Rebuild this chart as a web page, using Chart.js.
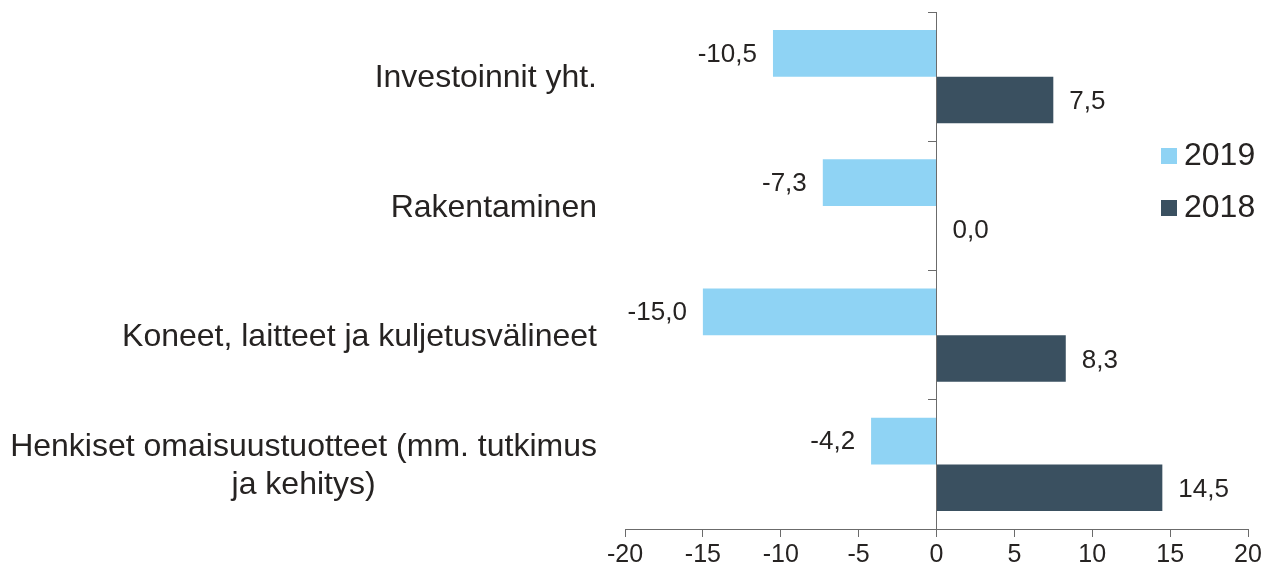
<!DOCTYPE html>
<html>
<head>
<meta charset="utf-8">
<script src="https://cdn.jsdelivr.net/npm/chart.js@4/dist/chart.umd.min.js"></script>
<style>
  html, body { margin: 0; padding: 0; background: #fff; }
  #wrap { width: 1266px; height: 573px; }
</style>
</head>
<body>
<div id="wrap"><canvas id="chart"></canvas></div>
<script>
// Data
const categories = [
  ['Investoinnit yht.'],
  ['Rakentaminen'],
  ['Koneet, laitteet ja kuljetusvälineet'],
  ['Henkiset omaisuustuotteet (mm. tutkimus', 'ja kehitys)']
];
const values2019 = [-10.5, -7.3, -15.0, -4.2];
const values2018 = [7.5, 0.0, 8.3, 14.5];
const seriesLabels = ['2019', '2018'];
const xTicks = [-20, -15, -10, -5, 0, 5, 10, 15, 20];

const FONT = "'Liberation Sans', Arial, sans-serif";
const TEXT = '#262322';
const AXIS = '#6b6b6b';
const fmt = v => v.toFixed(1).replace('.', ',');

// Kategoriat vasemmalle, rivit keskitetty toisiinsa nähden
const categoryLabels = {
  id: 'categoryLabels',
  afterDraw(chart) {
    const ctx = chart.ctx;
    const y = chart.scales.y;
    const right = 597, lh = 38;
    ctx.save();
    ctx.font = '32px ' + FONT;
    ctx.fillStyle = TEXT;
    ctx.textAlign = 'center';
    ctx.textBaseline = 'middle';
    categories.forEach((lines, i) => {
      const w = Math.max(...lines.map(l => ctx.measureText(l).width));
      const cx = right - w / 2;
      const cy = y.getPixelForTick(i) + 2;
      lines.forEach((l, j) => {
        ctx.fillText(l, cx, cy + (j - (lines.length - 1) / 2) * lh);
      });
    });
    ctx.restore();
  }
};

// Arvot palkkien päihin
const valueLabels = {
  id: 'valueLabels',
  afterDatasetsDraw(chart) {
    const ctx = chart.ctx;
    ctx.save();
    ctx.font = '26px ' + FONT;
    ctx.fillStyle = TEXT;
    ctx.textBaseline = 'middle';
    chart.data.datasets.forEach((ds, di) => {
      chart.getDatasetMeta(di).data.forEach((el, i) => {
        const v = ds.data[i];
        if (v < 0) {
          ctx.textAlign = 'right';
          ctx.fillText(fmt(v), el.x - 16, el.y + 1);
        } else {
          ctx.textAlign = 'left';
          ctx.fillText(fmt(v), el.x + 16, el.y + 2);
        }
      });
    });
    ctx.restore();
  }
};

// Selite oikealle
const sideLegend = {
  id: 'sideLegend',
  afterDraw(chart) {
    const ctx = chart.ctx;
    ctx.save();
    ctx.font = '32px ' + FONT;
    ctx.textBaseline = 'middle';
    ctx.textAlign = 'left';
    chart.data.datasets.forEach((ds, i) => {
      const cy = 156 + i * 52;
      ctx.fillStyle = ds.backgroundColor;
      ctx.fillRect(1161, cy - 8, 16, 16);
      ctx.fillStyle = TEXT;
      ctx.fillText(ds.label, 1184, cy);
    });
    ctx.restore();
  }
};

new Chart(document.getElementById('chart'), {
  type: 'bar',
  data: {
    labels: categories.map(c => c.join(' ')),
    datasets: [
      { label: seriesLabels[0], data: values2019, backgroundColor: '#8fd3f4' },
      { label: seriesLabels[1], data: values2018, backgroundColor: '#3a5060' }
    ]
  },
  options: {
    indexAxis: 'y',
    responsive: true,
    maintainAspectRatio: false,
    animation: false,
    datasets: { bar: { categoryPercentage: 0.72, barPercentage: 1.0 } },
    layout: { padding: { left: 625, right: 18, top: 12, bottom: 0 } },
    scales: {
      x: {
        min: -20,
        max: 20,
        afterBuildTicks: s => { s.ticks = xTicks.map(v => ({ value: v })); },
        grid: { drawOnChartArea: false, tickLength: 8, color: AXIS },
        border: { color: AXIS },
        ticks: {
          font: { family: FONT, size: 25 },
          color: TEXT,
          padding: 3,
          callback: v => String(v)
        }
      },
      y: {
        position: { x: 0 },
        grid: { drawOnChartArea: false, tickLength: 8, color: AXIS, offset: true },
        border: { color: AXIS },
        ticks: { display: false }
      }
    },
    plugins: {
      legend: { display: false },
      tooltip: { enabled: false }
    }
  },
  plugins: [categoryLabels, valueLabels, sideLegend]
});
</script>
</body>
</html>
